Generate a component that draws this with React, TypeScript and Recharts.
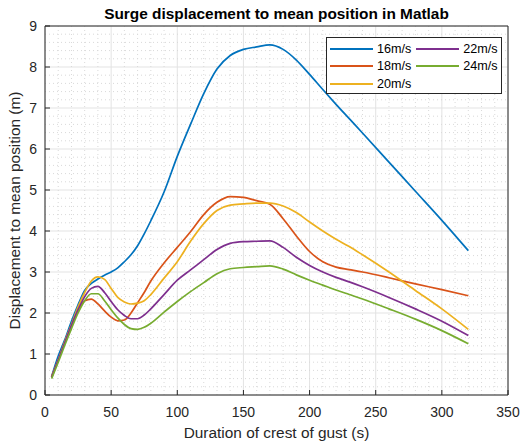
import { LineChart, Line, XAxis, YAxis, CartesianGrid, ReferenceLine } from "recharts";

// duration of crest of gust (s)
const durations = [
  5, 10, 15, 20, 25, 30, 35, 40, 45, 50, 55, 60, 65, 70, 75, 80, 90, 100, 110, 120,
  130, 140, 150, 160, 170, 180, 190, 200, 210, 220, 230, 240, 260, 280, 300, 320,
];

// displacement to mean position (m), one list per wind speed
const speed16 = [
  0.45, 0.95, 1.35, 1.8, 2.2, 2.55, 2.72, 2.83, 2.92, 3.0, 3.1, 3.25, 3.42, 3.64, 3.93, 4.25, 4.95, 5.82, 6.6, 7.35,
  7.95, 8.28, 8.43, 8.49, 8.54, 8.43, 8.17, 7.82, 7.45, 7.09, 6.74, 6.39, 5.68, 4.97, 4.26, 3.52,
];
const speed18 = [
  0.45, 0.85, 1.3, 1.7, 2.05, 2.3, 2.34, 2.22, 2.05, 1.9, 1.81, 1.83, 2.0, 2.25, 2.5, 2.78, 3.22, 3.6, 3.98, 4.4,
  4.7, 4.84, 4.82, 4.74, 4.65, 4.3, 3.88, 3.5, 3.25, 3.12, 3.06, 3.0, 2.86, 2.71, 2.57, 2.42,
];
const speed20 = [
  0.43, 0.85, 1.3, 1.72, 2.15, 2.5, 2.78, 2.88, 2.82, 2.6, 2.38, 2.27, 2.22, 2.24, 2.3, 2.45, 2.85, 3.25, 3.75, 4.18,
  4.5, 4.63, 4.66, 4.68, 4.68, 4.61, 4.45, 4.22, 4.0, 3.8, 3.62, 3.42, 3.0, 2.55, 2.1, 1.6,
];
const speed22 = [
  0.43, 0.85, 1.28, 1.7, 2.08, 2.4, 2.6, 2.65, 2.5, 2.28, 2.08, 1.94, 1.86, 1.86, 1.95, 2.1, 2.45, 2.8, 3.05, 3.3,
  3.55, 3.7, 3.74, 3.75, 3.76, 3.6, 3.36, 3.16, 3.0, 2.87, 2.76, 2.64, 2.38, 2.1, 1.8, 1.45,
];
const speed24 = [
  0.4, 0.8, 1.22, 1.62, 2.0, 2.3, 2.47, 2.47, 2.3, 2.08, 1.88, 1.72, 1.62, 1.6, 1.65, 1.75, 2.02, 2.28, 2.52, 2.74,
  2.96, 3.08, 3.11, 3.13, 3.15, 3.07, 2.93, 2.8, 2.68, 2.56, 2.45, 2.34, 2.1, 1.85, 1.57, 1.25,
];

const seriesNames = ["16m/s", "18m/s", "20m/s", "22m/s", "24m/s"];
const seriesColors = ["#0072BD", "#D95319", "#EDB120", "#7E2F8E", "#77AC30"];
const seriesValues = [speed16, speed18, speed20, speed22, speed24];

const xTicks = [0, 50, 100, 150, 200, 250, 300, 350];
const yTicks = [0, 1, 2, 3, 4, 5, 6, 7, 8, 9];

// dotted minor grid: every 10 s and every 0.2 m
const xMinor = Array.from({ length: 35 }, (_, i) => i * 10).filter((v) => v % 50 !== 0);
const yMinor = Array.from({ length: 45 }, (_, i) => Math.round(i * 2) / 10).filter((v) => v % 1 !== 0);

const data = durations.map((d, i) => {
  const row: Record<string, number> = { duration: d };
  seriesNames.forEach((name, k) => {
    row[name] = seriesValues[k][i];
  });
  return row;
});

const font = "'Liberation Sans', Arial, Helvetica, sans-serif";
const ink = "#262626";

function LegendBox() {
  const cols = [seriesNames.slice(0, 3), seriesNames.slice(3)];
  return (
    <div
      style={{
        position: "absolute",
        left: 326,
        top: 37,
        width: 176,
        height: 57,
        background: "#fff",
        border: `1px solid ${ink}`,
        display: "flex",
        fontSize: 12.6,
        color: "#000",
        paddingTop: 2,
        boxSizing: "border-box",
      }}
    >
      {cols.map((col, c) => (
        <div key={c} style={{ marginLeft: c === 0 ? 3 : 5 }}>
          {col.map((name) => (
            <div key={name} style={{ display: "flex", alignItems: "center", height: 17.5 }}>
              <div
                style={{
                  width: 43,
                  height: 2,
                  background: seriesColors[seriesNames.indexOf(name)],
                  marginRight: 4,
                }}
              />
              <span>{name}</span>
            </div>
          ))}
        </div>
      ))}
    </div>
  );
}

export default function App() {
  return (
    <div style={{ position: "absolute", left: 0, top: 0, width: 528, height: 445, fontFamily: font, background: "#fff" }}>
      <div
        style={{
          position: "absolute",
          left: 45,
          top: 5,
          width: 463,
          textAlign: "center",
          fontWeight: "bold",
          fontSize: 15.4,
          lineHeight: "18px",
          color: "#000",
        }}
      >
        Surge displacement to mean position in Matlab
      </div>
      <LineChart width={528} height={445} data={data} margin={{ top: 26, right: 20, bottom: 0, left: 0 }}>
        <CartesianGrid stroke="#e3e3e3" />
        {xMinor.map((v) => (
          <ReferenceLine key={"x" + v} x={v} stroke="#d9d9d9" strokeDasharray="1 3" />
        ))}
        {yMinor.map((v) => (
          <ReferenceLine key={"y" + v} y={v} stroke="#d9d9d9" strokeDasharray="1 3" />
        ))}
        <XAxis
          dataKey="duration"
          type="number"
          domain={[0, 350]}
          ticks={xTicks}
          interval={0}
          height={50}
          tickSize={-5}
          tickMargin={17}
          stroke={ink}
          tick={{ fill: ink, fontSize: 14, fontFamily: font }}
          label={{
            value: "Duration of crest of gust (s)",
            position: "insideBottom",
            offset: 7,
            fill: ink,
            fontSize: 15.4,
            fontFamily: font,
          }}
        />
        <XAxis xAxisId="top" orientation="top" mirror type="number" dataKey="duration" domain={[0, 350]} ticks={xTicks} tick={false} tickSize={5} stroke={ink} />
        <YAxis
          type="number"
          domain={[0, 9]}
          ticks={yTicks}
          interval={0}
          width={45}
          tickSize={-5}
          tickMargin={13}
          stroke={ink}
          tick={{ fill: ink, fontSize: 14, fontFamily: font }}
          label={{
            value: "Displacement to mean position (m)",
            angle: -90,
            position: "insideLeft",
            offset: 15,
            fill: ink,
            fontSize: 15.4,
            fontFamily: font,
            style: { textAnchor: "middle" },
          }}
        />
        <YAxis yAxisId="right" orientation="right" mirror type="number" domain={[0, 9]} ticks={yTicks} tick={false} tickSize={5} stroke={ink} />
        {seriesNames.map((name, k) => (
          <Line
            key={name}
            type="monotone"
            dataKey={name}
            stroke={seriesColors[k]}
            strokeWidth={1.7}
            dot={false}
            isAnimationActive={false}
          />
        ))}
      </LineChart>
      <LegendBox />
    </div>
  );
}
